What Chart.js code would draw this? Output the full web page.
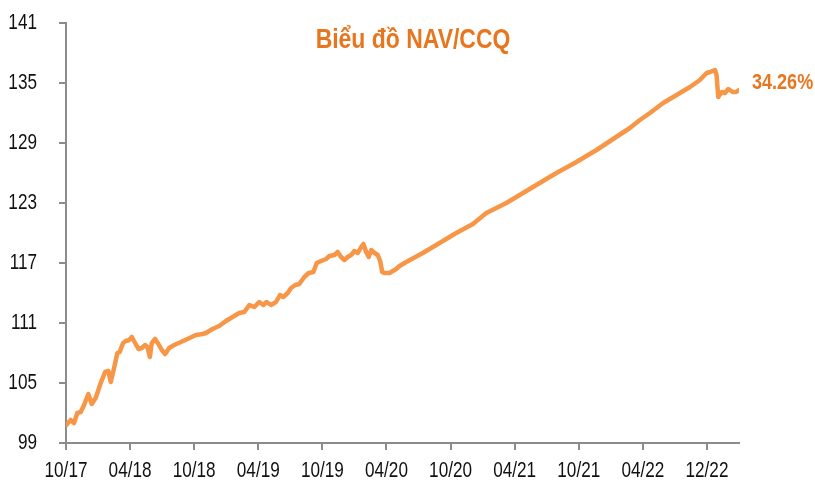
<!DOCTYPE html>
<html>
<head>
<meta charset="utf-8">
<script src="https://cdn.jsdelivr.net/npm/chart.js@4"></script>
<style>
  html, body { margin: 0; padding: 0; background: #fff; }
  #wrap { width: 815px; height: 483px; position: relative; }
</style>
</head>
<body>
<div id="wrap"><canvas id="navChart"></canvas></div>
<script>
const TITLE = "Biểu đồ NAV/CCQ";
const RETURN_LABEL = "34.26%";

// months since 10/2017
const monthIndex = [
  0.03, 0.44, 0.75, 1.06, 1.38, 1.69, 2.09, 2.41, 2.78, 3.25, 3.66, 3.97, 4.19, 4.5, 4.81,
  5.03, 5.34, 5.6, 5.91, 6.16, 6.47, 6.78, 7.1, 7.41, 7.62, 7.85, 8.03, 8.34, 8.65, 8.97,
  9.28, 9.66, 10.13, 10.75, 11.37, 12.16, 12.78, 13.1, 13.72, 14.34, 14.97, 15.59, 16.22,
  16.69, 17.16, 17.63, 18.09, 18.47, 18.78, 19.19, 19.66, 20.03, 20.34, 20.75, 21.07,
  21.47, 21.84, 22.31, 22.72, 23.16, 23.47, 23.88, 24.35, 24.66, 25.13, 25.43, 25.75,
  26.06, 26.37, 26.69, 27.0, 27.31, 27.63, 27.84, 28.1, 28.34, 28.57, 28.88, 29.18,
  29.41, 29.6, 29.81, 30.28, 30.91, 31.22, 31.85, 33.4, 34.97, 36.53, 38.09, 39.35,
  41.22, 42.78, 44.34, 45.91, 47.78, 49.66, 51.22, 52.78, 53.72, 54.66, 55.9, 57.47,
  58.41, 59.34, 59.97, 60.28, 60.75, 60.9, 60.97, 61.06, 61.38, 61.69, 62.0, 62.41,
  62.72, 63.0,
];

const navValues = [
  100.8, 101.3, 101.0, 102.0, 102.1, 102.8, 103.9, 102.9, 103.5, 105.0, 106.1, 106.2, 105.1, 106.5, 108.0,
  108.1, 109.0, 109.2, 109.3, 109.6, 109.0, 108.4, 108.5, 108.8, 108.6, 107.6, 109.0, 109.4, 108.9, 108.3,
  107.9, 108.5, 108.8, 109.1, 109.4, 109.8, 109.9, 110.0, 110.4, 110.7, 111.2, 111.6, 112.0,
  112.1, 112.8, 112.6, 113.1, 112.8, 113.1, 112.8, 113.1, 113.8, 113.6, 114.0, 114.5,
  114.8, 114.9, 115.6, 116.0, 116.1, 117.0, 117.2, 117.4, 117.7, 117.8, 118.1, 117.6,
  117.3, 117.6, 117.8, 118.2, 118.0, 118.6, 118.9, 118.1, 117.6, 118.3, 118.0, 117.8,
  117.2, 116.1, 116.0, 116.0, 116.4, 116.7, 117.1, 118.0, 119.0, 120.0, 120.9, 122.0,
  123.0, 124.0, 125.0, 126.0, 127.1, 128.3, 129.4, 130.5, 131.3, 132.0, 133.0, 134.0,
  134.6, 135.3, 136.0, 136.1, 136.3, 135.8, 134.8, 133.6, 134.1, 134.0, 134.4, 134.1,
  134.1, 134.3,
];

const xTickLabels = ["10/17", "04/18", "10/18", "04/19", "10/19", "04/20", "10/20", "04/21", "10/21", "04/22", "12/22"];
const yTicks = [99, 105, 111, 117, 123, 129, 135, 141];

const ORANGE_LINE = "#f79646";
const ORANGE_TEXT = "#e8761f";
const AXIS_GRAY = "#8c8c8c";
const FONT = "'Liberation Sans', Arial, sans-serif";

// draw text squeezed horizontally (looks like Arial Narrow); align: left | center | right
function narrowText(ctx, text, x, y, align, squeeze) {
  const w = ctx.measureText(text).width * squeeze;
  let left = x;
  if (align === "center") left = x - w / 2;
  if (align === "right") left = x - w;
  ctx.save();
  ctx.translate(left, y);
  ctx.scale(squeeze, 1);
  ctx.textAlign = "left";
  ctx.fillText(text, 0, 0);
  ctx.restore();
}

const textPlugin = {
  id: "chartTexts",
  afterDraw(chart) {
    const { ctx, scales, chartArea } = chart;
    ctx.save();
    ctx.textBaseline = "middle";

    ctx.fillStyle = "#111";
    ctx.font = `22px ${FONT}`;
    yTicks.forEach((v) => {
      narrowText(ctx, String(v), chartArea.left - 29, scales.y.getPixelForValue(v), "right", 0.78);
    });
    xTickLabels.forEach((label, i) => {
      narrowText(ctx, label, scales.x.getPixelForValue(i * 6), chartArea.bottom + 28, "center", 0.78);
    });

    ctx.fillStyle = ORANGE_TEXT;
    ctx.font = `bold 28px ${FONT}`;
    narrowText(ctx, TITLE, 413, 40, "center", 0.82);

    const lastX = scales.x.getPixelForValue(monthIndex[monthIndex.length - 1]);
    const lastY = scales.y.getPixelForValue(navValues[navValues.length - 1]);
    ctx.font = `bold 22px ${FONT}`;
    narrowText(ctx, RETURN_LABEL, lastX + 13, lastY - 7, "left", 0.82);
    ctx.restore();
  },
};

new Chart(document.querySelector("#navChart"), {
  type: "line",
  data: {
    datasets: [
      {
        data: monthIndex.map((m, i) => ({ x: m, y: navValues[i] })),
        borderColor: ORANGE_LINE,
        borderWidth: 4.5,
        pointRadius: 0,
        tension: 0,
        borderJoinStyle: "round",
        borderCapStyle: "round",
      },
    ],
  },
  options: {
    responsive: true,
    maintainAspectRatio: false,
    animation: false,
    layout: { padding: { left: 59, right: 76, top: 23, bottom: 33 } },
    plugins: { legend: { display: false }, tooltip: { enabled: false } },
    scales: {
      x: {
        type: "linear",
        min: 0,
        max: 63,
        afterBuildTicks: (axis) => {
          axis.ticks = xTickLabels.map((_, i) => ({ value: i * 6 }));
        },
        ticks: { display: false },
        grid: { drawOnChartArea: false, drawTicks: true, tickLength: 7, color: AXIS_GRAY, lineWidth: 2 },
        border: { display: true, color: AXIS_GRAY, width: 2 },
      },
      y: {
        min: 99,
        max: 141,
        afterBuildTicks: (axis) => {
          axis.ticks = yTicks.map((v) => ({ value: v }));
        },
        ticks: { display: false },
        grid: { drawOnChartArea: false, drawTicks: true, tickLength: 7, color: AXIS_GRAY, lineWidth: 2 },
        border: { display: true, color: AXIS_GRAY, width: 2 },
      },
    },
  },
  plugins: [textPlugin],
});
</script>
</body>
</html>
